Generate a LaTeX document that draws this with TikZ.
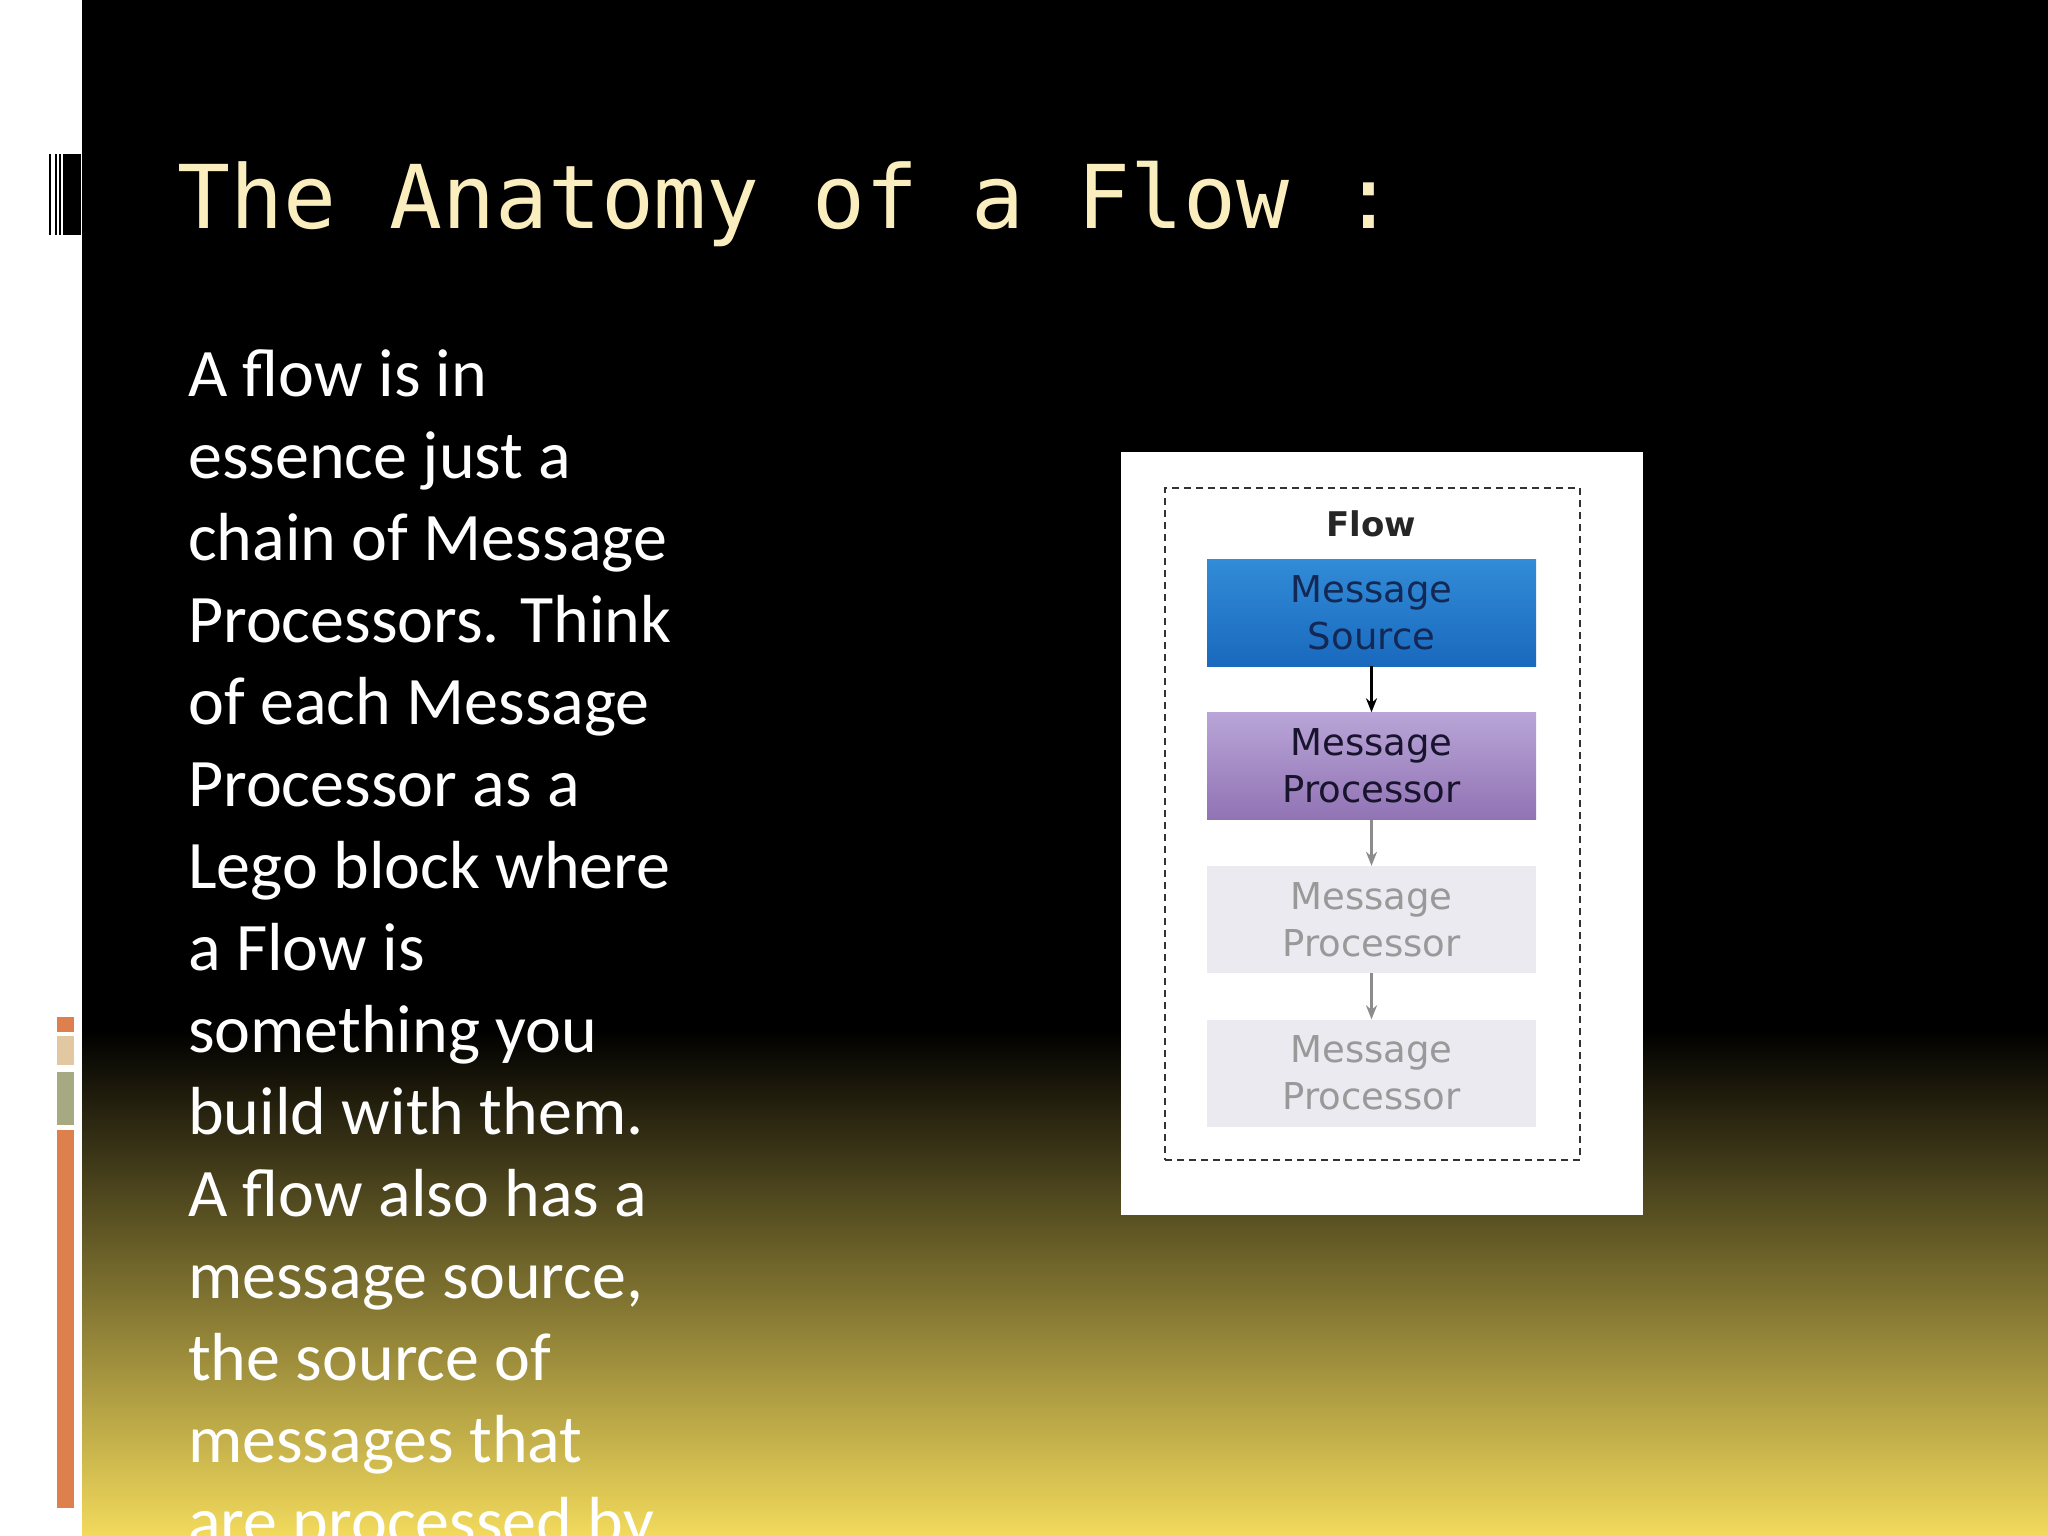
\documentclass[tikz,border=0pt]{standalone}
\usepackage{fontspec}
\usetikzlibrary{arrows.meta}
\setmainfont{Carlito}
\newfontfamily\monof{DejaVu Sans Mono}
\newfontfamily\dvs{DejaVu Sans}
\definecolor{cream}{RGB}{250,238,190}
\definecolor{yel}{RGB}{242,218,92}
\definecolor{org}{RGB}{222,128,78}
\definecolor{beig}{RGB}{226,200,160}
\definecolor{grn}{RGB}{166,170,130}
\definecolor{bluet}{RGB}{50,140,215}
\definecolor{blueb}{RGB}{25,105,190}
\definecolor{purt}{RGB}{185,165,215}
\definecolor{purb}{RGB}{145,115,180}
\definecolor{lgray}{RGB}{234,234,240}
\begin{document}
\begin{tikzpicture}[x=1pt,y=-1pt,
  body/.style={anchor=base west,text=white,font=\fontsize{68}{80}\selectfont,inner sep=0},
  blk/.style={minimum width=329pt,minimum height=107pt,inner sep=0,align=center,font=\dvs\fontsize{37}{47}\selectfont},
  arr/.style={-{Stealth[length=14pt,width=11pt]},line width=2.5pt}]
\useasboundingbox (0,0) rectangle (2048,1536);
\begin{scope}
\clip (0,0) rectangle (2048,1536);
\fill[white] (0,0) rectangle (82,1536);
\fill[black] (82,0) rectangle (2048,1030);
\shade[top color=black,bottom color=yel] (82,1030) rectangle (2048,1536);
% barcode
\foreach \a/\b in {49/51,55/57,59/61,63/81} \fill[black] (\a,154) rectangle (\b,235);
\fill[org] (57,1017) rectangle (74,1032);
\fill[beig] (57,1036) rectangle (74,1065);
\fill[grn] (57,1072) rectangle (74,1125);
\fill[org] (57,1130) rectangle (74,1508);
\node[anchor=base west,inner sep=0,text=cream,font=\monof\fontsize{88}{100}\selectfont] (title) at (177,228) {The Anatomy of a Flow :};
\foreach \t [count=\i from 0] in {A flow is in,essence just a,chain of Message,Processors. Think,of each Message,Processor as a,Lego block where,a Flow is,something you,build with them.,A flow also has a,{message source,},the source of,messages that,are processed by}
  \node[body] (l\i) at (188,396+82*\i) {\t};
% diagram
\node[fill=white,minimum width=522pt,minimum height=763pt,inner sep=0] (panel) at (1382,833.5) {};
\node[draw=black!80,dashed,line width=1.6pt,dash pattern=on 7pt off 5pt,minimum width=415pt,minimum height=672pt,inner sep=0] (flowbox) at (1372.5,824) {};
\node[font=\dvs\bfseries\fontsize{34}{40}\selectfont,text=black!85] (flow) at (1371,524) {Flow};
\node[blk,top color=bluet,bottom color=blueb,text={rgb,255:red,20;green,40;blue,85}] (src) at (1371.5,612.5) {Message\\Source};
\node[blk,top color=purt,bottom color=purb,text={rgb,255:red,25;green,20;blue,45}] (p1) at (1371.5,766) {Message\\Processor};
\node[blk,fill=lgray,text=black!40] (p2) at (1371.5,919.5) {Message\\Processor};
\node[blk,fill=lgray,text=black!40] (p3) at (1371.5,1073) {Message\\Processor};
\draw[arr,black] (src) -- (p1);
\draw[arr,black!45] (p1) -- (p2);
\draw[arr,black!45] (p2) -- (p3);
\end{scope}
\end{tikzpicture}
\end{document}
